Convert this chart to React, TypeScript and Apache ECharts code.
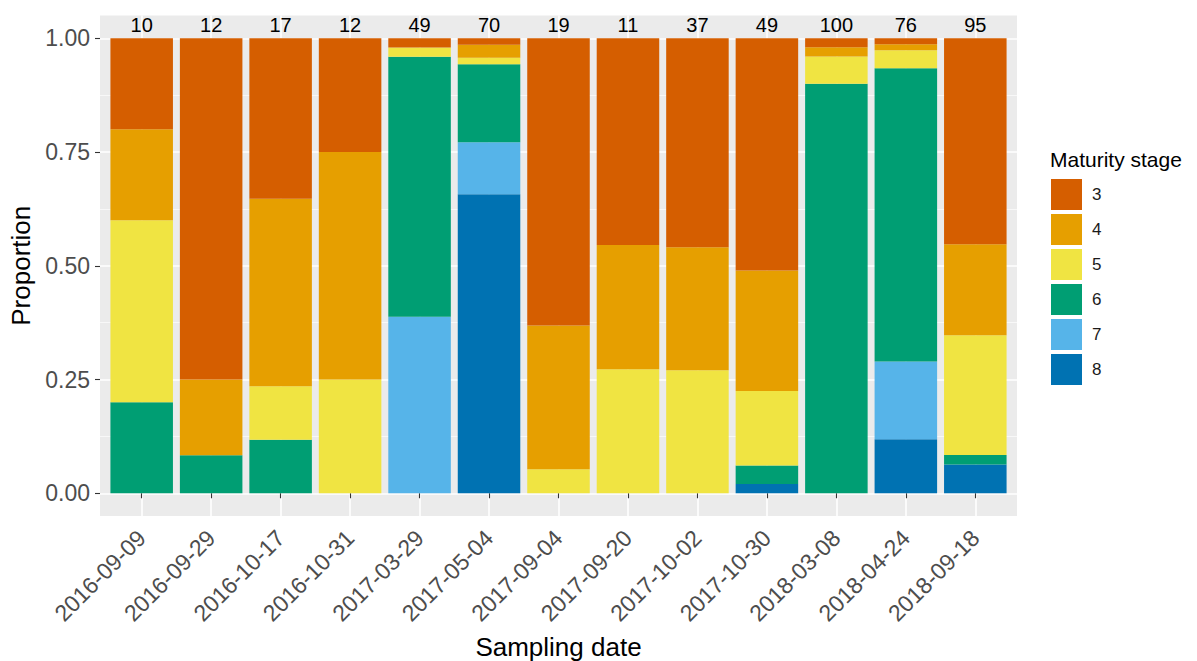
import React, { useEffect, useRef } from "react";
import * as echarts from "echarts";

// ---- data (counts) ----
const dates = [
  "2016-09-09", "2016-09-29", "2016-10-17", "2016-10-31", "2017-03-29",
  "2017-05-04", "2017-09-04", "2017-09-20", "2017-10-02", "2017-10-30",
  "2018-03-08", "2018-04-24", "2018-09-18",
];
const totals = [10, 12, 17, 12, 49, 70, 19, 11, 37, 49, 100, 76, 95];
const stage3 = [2, 9, 6, 3, 1, 1, 12, 5, 17, 25, 2, 1, 43];
const stage4 = [2, 2, 7, 6, 0, 2, 6, 3, 10, 13, 2, 1, 19];
const stage5 = [4, 0, 2, 3, 1, 1, 1, 3, 10, 8, 6, 3, 25];
const stage6 = [2, 1, 2, 0, 28, 12, 0, 0, 0, 2, 90, 49, 2];
const stage7 = [0, 0, 0, 0, 19, 8, 0, 0, 0, 0, 0, 13, 0];
const stage8 = [0, 0, 0, 0, 0, 46, 0, 0, 0, 1, 0, 9, 6];
const stageNames = ["3", "4", "5", "6", "7", "8"];
const stageCounts = [stage3, stage4, stage5, stage6, stage7, stage8];
const stageColors = ["#D55E00", "#E69F00", "#F0E442", "#009E73", "#56B4E9", "#0072B2"];
const yTicks = [0, 0.25, 0.5, 0.75, 1];
const yMinorTicks = [0.125, 0.375, 0.625, 0.875];

const FONT = "'Liberation Sans', Arial, Helvetica, sans-serif";

export default function App() {
  const ref = useRef<HTMLDivElement>(null);
  useEffect(() => {
    if (!ref.current) return;
    const chart = echarts.init(ref.current, undefined, { renderer: "svg" });

    const PL = 100, PR = 1017, PT = 15.5, PB = 516;
    const u = (PR - PL) / 13.2;
    const xPos = dates.map((_, i) => i + 1);

    // bottom of stack first: 8,7,6,5,4,3
    const order = [5, 4, 3, 2, 1, 0];
    const series: any[] = order.map((k) => ({
      name: stageNames[k],
      type: "bar",
      stack: "all",
      xAxisIndex: 1,
      yAxisIndex: 2,
      barWidth: "90%",
      itemStyle: { color: stageColors[k] },
      data: stageCounts[k].map((c, i) => c / totals[i]),
      label:
        k === 0
          ? {
              show: true,
              position: "top",
              distance: 3,
              formatter: (p: any) => String(totals[p.dataIndex]),
              fontSize: 20,
              color: "#000",
              fontFamily: FONT,
            }
          : { show: false },
    }));

    const option: any = {
      animation: false,
      backgroundColor: "#ffffff",
      textStyle: { fontFamily: FONT },
      title: {
        text: "Maturity stage",
        left: 1050,
        top: 149,
        padding: 0,
        textStyle: { fontSize: 21, fontWeight: "normal", color: "#000", fontFamily: FONT },
      },
      legend: {
        orient: "vertical",
        left: 1051,
        top: 179,
        padding: 0,
        itemWidth: 31,
        itemHeight: 31,
        itemGap: 4,
        icon: "rect",
        data: stageNames,
        textStyle: { fontSize: 17, color: "#1a1a1a", padding: [0, 0, 0, 5], fontFamily: FONT },
      },
      grid: [
        {
          left: PL, top: PT, width: PR - PL, height: PB - PT,
          show: true, backgroundColor: "#EBEBEB", borderWidth: 0,
          containLabel: false, outerBoundsMode: "none",
        },
        {
          left: PL + 0.1 * u, top: PT, width: 13 * u, height: PB - PT,
          containLabel: false, outerBoundsMode: "none",
        },
      ],
      xAxis: [
        {
          type: "value",
          gridIndex: 0,
          min: 0.4,
          max: 13.6,
          axisLine: { show: false },
          axisTick: { show: true, length: 5, customValues: xPos, lineStyle: { color: "#333", width: 1.1 } },
          axisLabel: {
            customValues: xPos,
            formatter: (v: number) => dates[Math.round(v) - 1] ?? "",
            rotate: 45,
            margin: 18,
            padding: [12, 0, 0, 0],
            fontSize: 23,
            color: "#4D4D4D",
            fontFamily: FONT,
          },
          splitLine: { show: true, lineStyle: { color: "#FFFFFF", width: 1.6 } },
          name: "Sampling date",
          nameLocation: "middle",
          nameGap: 118,
          nameTextStyle: { fontSize: 26, color: "#000", fontFamily: FONT },
        },
        {
          type: "category",
          gridIndex: 1,
          data: dates,
          show: false,
        },
      ],
      yAxis: [
        {
          type: "value",
          gridIndex: 0,
          min: -0.05,
          max: 1.05,
          axisLine: { show: false },
          axisTick: { show: true, length: 5, customValues: yTicks, lineStyle: { color: "#333", width: 1.1 } },
          axisLabel: {
            customValues: yTicks,
            formatter: (v: number) => v.toFixed(2),
            fontSize: 23,
            color: "#4D4D4D",
            margin: 10,
            fontFamily: FONT,
          },
          splitLine: { show: true, lineStyle: { color: "#FFFFFF", width: 1.6 } },
          name: "Proportion",
          nameLocation: "middle",
          nameGap: 63,
          nameTextStyle: { fontSize: 26, color: "#000", fontFamily: FONT },
        },
        {
          type: "value",
          gridIndex: 0,
          position: "left",
          min: -0.05,
          max: 1.05,
          axisLine: { show: false },
          axisTick: { show: false, customValues: yMinorTicks },
          axisLabel: { show: false, customValues: yMinorTicks },
          splitLine: { show: true, lineStyle: { color: "#FFFFFF", width: 0.8, opacity: 0.8 } },
        },
        {
          type: "value",
          gridIndex: 1,
          min: -0.05,
          max: 1.05,
          show: false,
          splitLine: { show: false },
        },
      ],
      series,
    };
    chart.setOption(option);
    return () => chart.dispose();
  }, []);
  return (
    <div
      ref={ref}
      style={{ position: "fixed", left: 0, top: 0, width: 1197, height: 661, background: "#fff" }}
    />
  );
}
